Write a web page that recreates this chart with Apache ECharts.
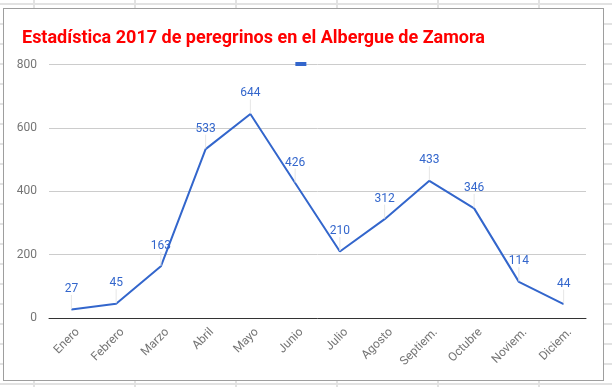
<!DOCTYPE html>
<html><head><meta charset="utf-8">
<script src="https://cdn.jsdelivr.net/npm/echarts@6/dist/echarts.min.js"></script>
<style>
html,body{margin:0;padding:0;width:612px;height:387px;overflow:hidden;}
body{position:relative;background-color:#fff;
background-image:
 linear-gradient(to bottom, transparent 0px, transparent 3px, #e2e2e2 3px, #e2e2e2 5px, transparent 5px),
 linear-gradient(to right, transparent 0px, transparent 33px, #e2e2e2 33px, #e2e2e2 35px, transparent 35px);
background-size: 612px 20px, 101px 387px;
background-position: 0 0, 0 0;}
#chart{position:absolute;left:3px;top:8px;width:599px;height:371px;border:1px solid #9e9e9e;background:#fff;}
</style></head>
<body>
<div id="chart"></div>
<script>
const titleText = 'Estadística 2017 de peregrinos en el Albergue de Zamora';
const months = ['Enero','Febrero','Marzo','Abril','Mayo','Junio','Julio','Agosto','Septiem.','Octubre','Noviem.','Diciem.'];
const pilgrims = [27,45,163,533,644,426,210,312,433,346,114,44];
const yTicks = {min:0, max:800, interval:200};

const chart = echarts.init(document.getElementById('chart'));
chart.setOption({
  animation:false,
  title:{text:titleText,left:13,top:15,textStyle:{color:'#ff0000',fontFamily:'Roboto',fontWeight:'bold',fontSize:18}},
  legend:{show:true,top:53,left:'center',itemWidth:11,itemHeight:4,icon:'rect',itemGap:0,
    data:[{name:' ',itemStyle:{color:'#3366cc',opacity:1}}],textStyle:{fontSize:1,color:'transparent'},padding:0},
  grid:{left:45,right:17,top:55.5,bottom:62},
  xAxis:{type:'category',data:months,boundaryGap:true,
    axisLine:{lineStyle:{color:'#333',width:1}},axisTick:{show:false},
    axisLabel:{rotate:45,color:'#757575',fontFamily:'Roboto',fontSize:12,margin:6,interval:0,
      verticalAlign:'top',lineHeight:18}},
  yAxis:{type:'value',min:yTicks.min,max:yTicks.max,interval:yTicks.interval,
    axisLine:{show:false},axisTick:{show:false},
    splitLine:{lineStyle:{color:'#cccccc'}},
    axisLabel:{color:'#757575',fontFamily:'Roboto',fontSize:12,margin:12}},
  series:[{name:' ',type:'line',data:pilgrims,color:'#3366cc',
    lineStyle:{width:2,color:'#3366cc'},symbol:'circle',symbolSize:1,
    itemStyle:{color:'rgba(0,0,0,0)',borderWidth:0},
    label:{show:true,position:'top',distance:2,color:'#3366cc',fontFamily:'Roboto',fontSize:12},
    labelLayout:{dy:-12},
    labelLine:{show:true,lineStyle:{color:'#e6e6e6',width:1}}
  }]
});
</script>
</body></html>
